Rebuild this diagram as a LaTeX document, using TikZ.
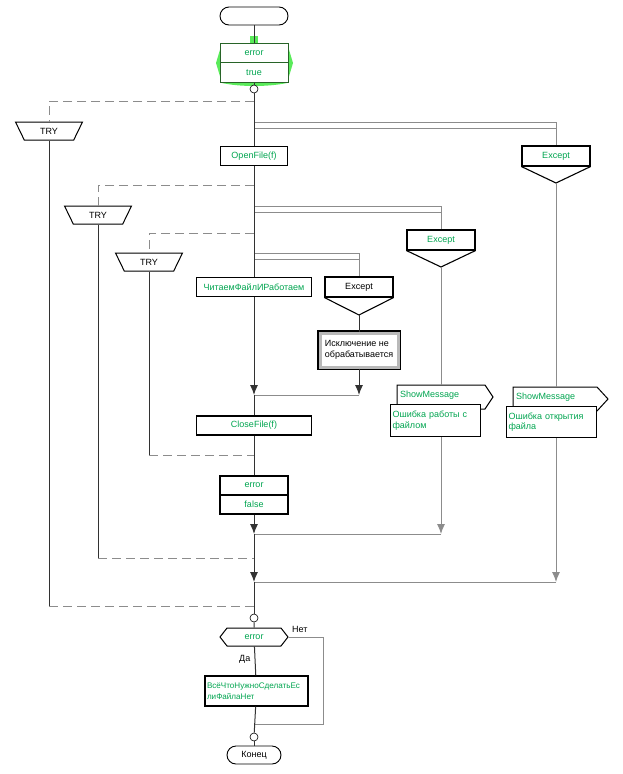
\documentclass[tikz,border=0pt]{standalone}
\usepackage{fontspec}
\setmainfont{Liberation Sans}
\usetikzlibrary{shapes.geometric,shapes.symbols,arrows.meta}
\definecolor{txtgreen}{RGB}{0,165,80}
\definecolor{selgreen}{RGB}{90,235,90}
\definecolor{selframe}{RGB}{40,100,40}
\definecolor{wire}{RGB}{50,50,50}
\definecolor{sidewire}{RGB}{140,140,140}

\begin{document}
\begin{tikzpicture}[x=1pt,y=-1pt,font=\fontsize{9}{10.5}\selectfont]
  \tikzset{term/.style={draw,rounded corners=9pt,minimum width=68pt,minimum height=18pt,line width=0.9pt,fill=white}}
  \tikzset{act/.style={draw,line width=1.1pt,fill=white,minimum width=67pt,minimum height=19pt,inner sep=1pt,text=txtgreen}}
  \tikzset{trybox/.style={draw,trapezium,shape border rotate=180,trapezium angle=63,trapezium stretches=true,minimum width=67pt,minimum height=18pt,inner sep=0pt,line width=1pt,fill=white}}
  \tikzset{exbox/.style={draw,line width=1.1pt,fill=white,minimum width=68pt,minimum height=20pt,inner sep=1pt,text=txtgreen}}
  \tikzset{knot/.style={draw,circle,inner sep=0pt,minimum size=8pt,fill=white,line width=0.6pt}}
  \tikzset{wire/.style={draw=wire,line width=1pt}}
  \tikzset{side/.style={draw=sidewire,line width=1pt}}
  \tikzset{back/.style={draw=sidewire,line width=1pt,dash pattern=on 9pt off 5pt}}
  \tikzset{>={Latex[length=10pt,width=8pt]}}
  \useasboundingbox (0,0) rectangle (622,774);

  % start and error := true
  \node[term] (start) at (254,16) {};
  \fill[selgreen] (222,43) -- (216,63) -- (222,83) .. controls (240,87) and (268,87) .. (287,83) -- (293,63) -- (287,43) -- cycle;
  \fill[selgreen] (250,36) rectangle (258,43);
  \node[act,draw=selframe,line width=0.9pt,minimum width=68pt,minimum height=20pt] (err1) at (254,53) {error};
  \node[act,draw=selframe,line width=0.9pt,minimum width=68pt,minimum height=20pt] (tru1) at (254,72.5) {true};
  \node[knot] (k1) at (254,89) {};
  \draw[wire] (start) -- (err1);
  \draw[wire] (tru1) -- (k1);

  % outer TRY
  \coordinate (d1) at (254,101);
  \coordinate (d1end) at (49,606);
  \coordinate (j3) at (254,606);
  \node[trybox] (try1) at (49,131) {TRY};
  \draw[back] (d1) -| (try1);
  \draw[wire] (try1) -- (d1end);
  \draw[back] (d1end) -- (j3);
  \coordinate (x1a) at (254,122);
  \coordinate (x1b) at (254,128);
  \node[exbox] (exc1) at (556,156) {Except};
  \coordinate (exc1tip) at (556,183);
  \draw[line width=1.1pt] (exc1.south west) -- (exc1tip) -- (exc1.south east);
  \draw[side] (x1a) -| (exc1);
  \draw[side] (x1b) -- (x1b -| exc1);
  \node[act] (open) at (254,156) {OpenFile(f)};
  \draw[wire] (k1) -- (open);

  % middle TRY
  \coordinate (d2) at (254,185);
  \coordinate (d2end) at (98,558);
  \coordinate (j2) at (254,558);
  \node[trybox] (try2) at (98,215) {TRY};
  \draw[back] (d2) -| (try2);
  \draw[wire] (try2) -- (d2end);
  \draw[back] (d2end) -- (j2);
  \coordinate (x2a) at (254,206);
  \coordinate (x2b) at (254,212);
  \node[exbox] (exc2) at (441,240) {Except};
  \coordinate (exc2tip) at (441,267);
  \draw[line width=1.1pt] (exc2.south west) -- (exc2tip) -- (exc2.south east);
  \draw[side] (x2a) -| (exc2);
  \draw[side] (x2b) -- (x2b -| exc2);

  % inner TRY
  \coordinate (d3) at (254,233);
  \coordinate (d3end) at (149,455);
  \coordinate (j1) at (254,455);
  \node[trybox] (try3) at (149,262) {TRY};
  \draw[back] (d3) -| (try3);
  \draw[wire] (try3) -- (d3end);
  \draw[back] (d3end) -- (j1);
  \coordinate (x3a) at (254,253);
  \coordinate (x3b) at (254,259);
  \node[exbox,text=black] (exc3) at (359,287) {Except};
  \coordinate (exc3tip) at (359,315);
  \draw[line width=1.1pt] (exc3.south west) -- (exc3tip) -- (exc3.south east);
  \draw[side] (x3a) -| (exc3);
  \draw[side] (x3b) -- (x3b -| exc3);

  \node[act,minimum width=115pt] (read) at (254,287) {ЧитаемФайлИРаботаем};
  \draw[wire] (open) -- (read);
  \node[draw=gray!55,line width=3pt,fill=white,preaction={draw=black,line width=6pt},minimum width=78pt,minimum height=34pt,align=left,inner sep=2pt] (noexc) at (359,350) {Исключение не\\обрабатывается};
  \draw[wire] (exc3tip) -- (noexc);
  \coordinate (m0) at (254,395);
  \coordinate (m0r) at (359,395);
  \draw[wire,->] (noexc) -- (m0r);
  \draw[side] (m0r) -- (m0);
  \draw[wire,->] (read) -- (m0);
  \node[act,minimum width=115pt] (close) at (254,425.5) {CloseFile(f)};
  \draw[wire] (m0) -- (close);
  \node[act,minimum width=68pt] (err2) at (254,485.5) {error};
  \node[act,minimum width=68pt] (fls2) at (254,504.5) {false};
  \draw[wire] (close) -- (err2);

  % ShowMessage blocks
  \draw[line width=1pt,fill=white] (397,385) -- (485,385) -- (493,397) -- (485,409) -- (397,409) -- cycle;
  \node[anchor=west,text=txtgreen,inner sep=0pt] (msg1) at (400,395) {ShowMessage};
  \node[draw,line width=1.1pt,fill=white,text=txtgreen,anchor=north west,minimum width=90pt,minimum height=32pt,text width=86pt,align=left,inner sep=2pt] (txt1) at (390,404) {Ошибка работы с\\файлом};
  \draw[side] (exc2tip) -- (exc2tip |- 0,385);
  \coordinate (m1r) at (441,534);
  \coordinate (m1) at (254,534);
  \draw[side,->] (txt1.south -| exc2tip) -- (m1r);
  \draw[side] (m1r) -- (m1);

  \draw[line width=1pt,fill=white] (513,387) -- (597,387) -- (608,399) -- (597,411) -- (513,411) -- cycle;
  \node[anchor=west,text=txtgreen,inner sep=0pt] (msg2) at (516,397) {ShowMessage};
  \node[draw,line width=1.1pt,fill=white,text=txtgreen,anchor=north west,minimum width=90pt,minimum height=31pt,text width=86pt,align=left,inner sep=2pt] (txt2) at (506,406) {Ошибка открытия\\файла};
  \draw[side] (exc1tip) -- (exc1tip |- 0,387);
  \coordinate (m2r) at (556,582);
  \coordinate (m2) at (254,582);
  \draw[side,->] (txt2.south -| exc1tip) -- (m2r);
  \draw[side] (m2r) -- (m2);

  \draw[wire,->] (fls2) -- (m1);
  \draw[wire,->] (m1) -- (m2);
  \node[knot] (k2) at (254,618) {};
  \draw[wire] (m2) -- (k2);

  % if error
  \node[draw,signal,signal to=west and east,signal pointer angle=104,line width=1pt,minimum width=68pt,minimum height=18pt,inner sep=1pt,text=txtgreen] (cond) at (254,637) {error};
  \node[anchor=west,inner sep=0pt] (no) at (292,629) {Нет};
  \node[anchor=west,inner sep=0pt] (yes) at (239,659) {Да};
  \draw[wire] (k2) -- (cond);
  \node[act,minimum width=103pt,minimum height=30pt,text width=99pt,align=left,font=\fontsize{8.1}{10.5}\selectfont] (todo) at (256.5,691) {ВсёЧтоНужноСделатьЕс\\лиФайлаНет};
  \draw[wire] (cond) -- (todo);
  \coordinate (loop) at (323,724);
  \coordinate (m3) at (254,724);
  \draw[side] (cond.east) -| (loop) -- (m3);
  \node[knot] (k3) at (254,737) {};
  \draw[wire] (todo) -- (k3);
  \node[term,minimum width=54pt] (fin) at (254,755) {Конец};
  \draw[wire] (k3) -- (fin);
\end{tikzpicture}
\end{document}
